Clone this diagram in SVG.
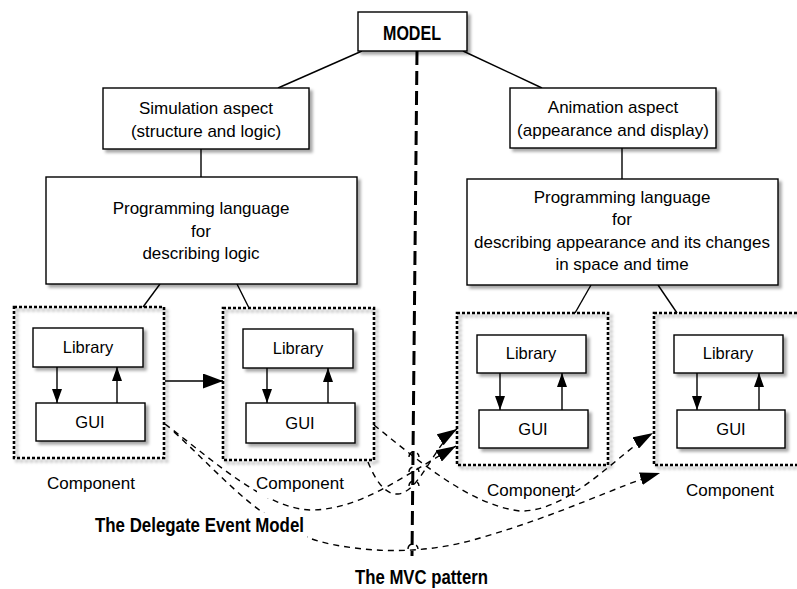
<svg xmlns="http://www.w3.org/2000/svg" width="797" height="589" viewBox="0 0 797 589">
<style>
.box{fill:#fff;stroke:#000;stroke-width:1.4;filter:url(#sh)}
.comp{fill:none;stroke:#000;stroke-width:2.6;stroke-dasharray:3 2;filter:url(#sh)}
.t{font-family:"Liberation Sans",Arial,sans-serif;font-size:17px;fill:#000;text-anchor:middle}
.ts{font-family:"Liberation Sans",Arial,sans-serif;font-size:16.5px;fill:#000;text-anchor:middle}
.tb{font-family:"Liberation Sans",Arial,sans-serif;font-size:20px;font-weight:bold;fill:#000;text-anchor:middle}
.ln{fill:none;stroke:#000;stroke-width:1.4}
.ev{fill:none;stroke:#000;stroke-width:1.4;stroke-dasharray:6 5}
.mvc{fill:none;stroke:#000;stroke-width:3;stroke-dasharray:14 6}
</style>
<defs>
<filter id="sh" x="-10%" y="-10%" width="130%" height="130%">
<feDropShadow dx="3" dy="3" stdDeviation="1.5" flood-color="#000" flood-opacity="0.35"/>
</filter>
<marker id="ah" viewBox="0 0 14 10" markerUnits="userSpaceOnUse" markerWidth="14" markerHeight="10" refX="14" refY="5" orient="auto">
<path d="M0,0 L14,5 L0,10 z" fill="#000"/>
</marker>
<marker id="big" viewBox="0 0 20 15" markerUnits="userSpaceOnUse" markerWidth="20" markerHeight="15" refX="20" refY="7.5" orient="auto">
<path d="M0,0 L20,7.5 L0,15 z" fill="#000"/>
</marker>
<marker id="dh" viewBox="0 0 20 13" markerUnits="userSpaceOnUse" markerWidth="20" markerHeight="13" refX="20" refY="6.5" orient="auto">
<path d="M0,0 L20,6.5 L0,13 z" fill="#000"/>
</marker>
</defs>

<g id="connectors">
<line class="ln" x1="362" y1="51" x2="278" y2="88"/>
<line class="ln" x1="463" y1="51" x2="542" y2="88"/>
<line class="ln" x1="201" y1="149" x2="201" y2="177"/>
<line class="ln" x1="622" y1="148" x2="622" y2="179"/>
<line class="ln" x1="160" y1="284" x2="143" y2="307"/>
<line class="ln" x1="237" y1="284" x2="249" y2="308"/>
<line class="ln" x1="591" y1="285" x2="575" y2="313"/>
<line class="ln" x1="658" y1="285" x2="677" y2="313"/>
<line class="ln" x1="57" y1="367" x2="57" y2="403" marker-end="url(#ah)"/>
<line class="ln" x1="117" y1="403" x2="117" y2="367" marker-end="url(#ah)"/>
<line class="ln" x1="267" y1="368" x2="267" y2="403" marker-end="url(#ah)"/>
<line class="ln" x1="328" y1="403" x2="328" y2="368" marker-end="url(#ah)"/>
<line class="ln" x1="500" y1="373" x2="500" y2="410" marker-end="url(#ah)"/>
<line class="ln" x1="562" y1="410" x2="562" y2="373" marker-end="url(#ah)"/>
<line class="ln" x1="697" y1="373" x2="697" y2="410" marker-end="url(#ah)"/>
<line class="ln" x1="759" y1="410" x2="759" y2="373" marker-end="url(#ah)"/>
<line class="ln" x1="165" y1="381" x2="223" y2="381" marker-end="url(#big)"/>
<path class="ev" d="M165,424 C215,462 265,508 310,510 C360,510 400,478 456,446" marker-end="url(#dh)"/>
<path class="ev" d="M174,432 C225,478 265,530 330,544 C380,554 430,553 480,538 C560,515 620,485 660,473" marker-end="url(#dh)"/>
<path class="ev" d="M374,425 C420,462 470,505 520,511 C570,512 620,452 653,433" marker-end="url(#dh)"/>
<path class="ev" d="M368,462 C376,482 386,495 398,494 C420,492 435,443 457,429" marker-end="url(#dh)"/>
<path class="ev" d="M409,472 a5,5 0 0 1 10,0"/>
<path class="ev" d="M408,549 a5,5 0 0 1 10,0"/>
<path class="ev" d="M409,457 a5,5 0 0 1 10,0"/>
<path class="ev" d="M409,486 a5,5 0 0 1 10,0"/>
<line class="mvc" x1="417" y1="51" x2="412" y2="556"/>
</g>

<g id="model">
<rect class="box" x="358" y="12" width="109" height="39"/>
<text class="tb" x="412" y="40" textLength="58" lengthAdjust="spacingAndGlyphs">MODEL</text>
</g>
<g id="simulation">
<rect class="box" x="103" y="88" width="206" height="61"/>
<text class="t" x="206" y="114">Simulation aspect</text>
<text class="t" x="206" y="137">(structure and logic)</text>
</g>
<g id="animation">
<rect class="box" x="510" y="88" width="206" height="60"/>
<text class="t" x="613" y="113">Animation aspect</text>
<text class="t" x="613" y="136">(appearance and display)</text>
</g>
<g id="lang-logic">
<rect class="box" x="46" y="177" width="311" height="107"/>
<text class="t" x="201" y="214">Programming language</text>
<text class="t" x="201" y="237">for</text>
<text class="t" x="201" y="259">describing logic</text>
</g>
<g id="lang-appearance">
<rect class="box" x="467" y="179" width="311" height="106"/>
<text class="t" x="622" y="203">Programming language</text>
<text class="t" x="622" y="225">for</text>
<text class="t" x="622" y="248">describing appearance and its changes</text>
<text class="t" x="622" y="270">in space and time</text>
</g>
<g id="component1">
<rect class="comp" x="14" y="307" width="150" height="151"/>
<rect class="box" x="33" y="328" width="110" height="39"/>
<text class="ts" x="88" y="353">Library</text>
<rect class="box" x="36" y="403" width="109" height="38"/>
<text class="ts" x="90" y="428">GUI</text>
<text class="t" x="91" y="489">Component</text>
</g>
<g id="component2">
<rect class="comp" x="223" y="308" width="151" height="152"/>
<rect class="box" x="243" y="329" width="110" height="39"/>
<text class="ts" x="298" y="354">Library</text>
<rect class="box" x="246" y="403" width="109" height="40"/>
<text class="ts" x="300" y="429">GUI</text>
<rect x="257" y="474" width="88" height="24" fill="#fff"/>
<text class="t" x="300" y="489">Component</text>
</g>
<g id="component3">
<rect class="comp" x="457" y="313" width="151" height="152"/>
<rect class="box" x="477" y="335" width="109" height="38"/>
<text class="ts" x="531" y="359">Library</text>
<rect class="box" x="479" y="410" width="109" height="38"/>
<text class="ts" x="533" y="435">GUI</text>
<text class="t" x="531" y="496">Component</text>
</g>
<g id="component4">
<rect class="comp" x="654" y="313" width="151" height="152"/>
<rect class="box" x="674" y="335" width="109" height="38"/>
<text class="ts" x="728" y="359">Library</text>
<rect class="box" x="677" y="410" width="108" height="38"/>
<text class="ts" x="731" y="435">GUI</text>
<text class="t" x="730" y="496">Component</text>
</g>
<g id="delegate-label">
<rect x="93" y="513" width="214" height="25" fill="#fff"/>
<text class="tb" x="199.5" y="532" textLength="209" lengthAdjust="spacingAndGlyphs">The Delegate Event Model</text>
</g>
<g id="mvc-label">
<text class="tb" x="421.5" y="584" textLength="133" lengthAdjust="spacingAndGlyphs">The MVC pattern</text>
</g>
</svg>
